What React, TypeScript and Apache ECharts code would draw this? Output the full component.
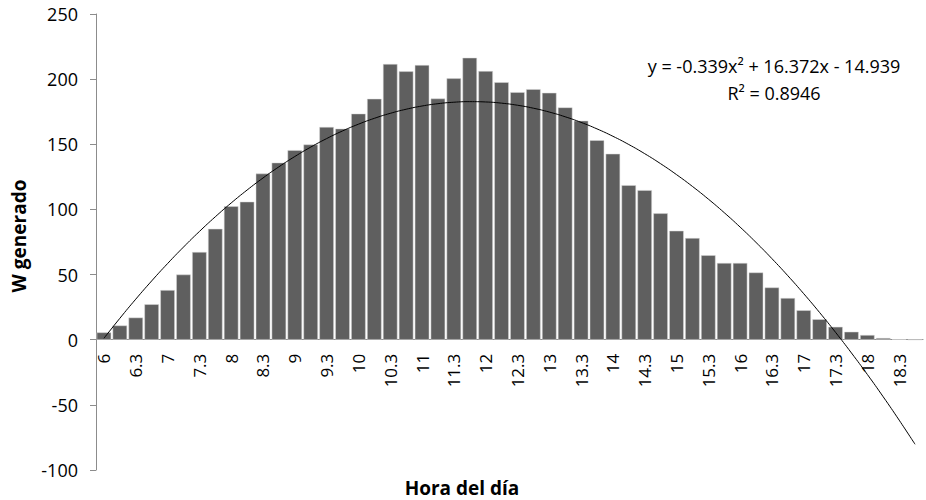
import React, { useEffect, useRef } from "react";
import * as echarts from "echarts";

const categories: string[] = [
  "6", "6.15", "6.3", "6.45", "7", "7.15", "7.3", "7.45", "8", "8.15", "8.3", "8.45",
  "9", "9.15", "9.3", "9.45", "10", "10.15", "10.3", "10.45", "11", "11.15", "11.3", "11.45",
  "12", "12.15", "12.3", "12.45", "13", "13.15", "13.3", "13.45", "14", "14.15", "14.3", "14.45",
  "15", "15.15", "15.3", "15.45", "16", "16.15", "16.3", "16.45", "17", "17.15", "17.3", "17.45",
  "18", "18.15", "18.3", "18.45",
];

const wGenerado: number[] = [
  5.6, 10.9, 17.0, 27.2, 38.1, 50.0, 67.3, 85.1, 102.4, 105.9, 127.5, 135.9,
  145.5, 149.8, 163.3, 162.0, 173.5, 184.9, 211.6, 206.0, 210.8, 185.1, 200.6, 216.4,
  206.2, 197.6, 190.0, 192.3, 189.5, 178.3, 168.1, 153.1, 142.7, 118.6, 114.8, 97.0,
  83.6, 78.0, 64.8, 58.9, 58.9, 51.6, 40.1, 32.0, 22.6, 15.7, 9.9, 6.1,
  3.6, 1.3, 0.3, 0,
];

// Polynomial trendline coefficients as printed on the chart: a*x^2 + b*x + c
const trendCoefficients: number[] = [-0.339, 16.372, -14.939];
const equationLines: string[] = ["y = -0.339x² + 16.372x - 14.939", "R² = 0.8946"];

const yTicks = { min: -100, max: 250, interval: 50 };

const FONT = "'Open Sans', Lato, sans-serif";
const W = 926;
const H = 500;
const GRID_TOP = 14;
const GRID_BOTTOM = 30;

export default function App() {
  const ref = useRef<HTMLDivElement>(null);

  useEffect(() => {
    if (!ref.current) return;
    const chart = echarts.init(ref.current, null, { renderer: "svg" });
    const [a, b, c] = trendCoefficients;
    const trend = categories.map((_, i) => {
      const x = i + 1;
      return a * x * x + b * x + c;
    });

    // pixel row of the value 0 inside the main grid (labels sit under the zero line)
    const plotH = H - GRID_TOP - GRID_BOTTOM;
    const zeroY = GRID_TOP + (yTicks.max / (yTicks.max - yTicks.min)) * plotH;

    chart.setOption({
      animation: false,
      backgroundColor: "#ffffff",
      textStyle: { fontFamily: FONT },
      grid: [
        { left: 96, right: 3, top: GRID_TOP, bottom: GRID_BOTTOM, containLabel: false },
        { left: 96, right: 3, top: GRID_TOP, bottom: H - zeroY, containLabel: false },
      ],
      xAxis: [
        {
          type: "category",
          gridIndex: 0,
          data: categories,
          boundaryGap: true,
          axisLine: { show: true, onZero: true, lineStyle: { color: "#8c8c8c", width: 1 } },
          axisTick: { show: false },
          axisLabel: { show: false },
          splitLine: { show: false },
        },
        {
          type: "category",
          gridIndex: 1,
          data: categories,
          boundaryGap: true,
          axisLine: { show: false },
          axisTick: { show: false },
          axisLabel: {
            rotate: 90,
            interval: 1,
            fontSize: 17,
            color: "#000",
            margin: 14,
            fontFamily: FONT,
          },
          splitLine: { show: false },
        },
      ],
      yAxis: [
        {
          type: "value",
          gridIndex: 0,
          min: yTicks.min,
          max: yTicks.max,
          interval: yTicks.interval,
          axisLine: { show: true, lineStyle: { color: "#8c8c8c", width: 1 } },
          axisTick: { show: true, length: 6, lineStyle: { color: "#8c8c8c" } },
          axisLabel: { fontSize: 18, color: "#000", margin: 18, fontFamily: FONT },
          splitLine: { show: false },
        },
        {
          type: "value",
          gridIndex: 1,
          min: 0,
          max: yTicks.max,
          show: false,
          splitLine: { show: false },
        },
      ],
      series: [
        {
          type: "bar",
          xAxisIndex: 0,
          yAxisIndex: 0,
          data: wGenerado,
          barCategoryGap: "9%",
          itemStyle: { color: "#5f5f5f", borderColor: "#d9d9d9", borderWidth: 0.5 },
          z: 2,
        },
        {
          type: "line",
          xAxisIndex: 0,
          yAxisIndex: 0,
          data: trend,
          smooth: true,
          showSymbol: false,
          symbol: "none",
          lineStyle: { color: "#000", width: 1 },
          z: 3,
        },
      ],
      graphic: [
        {
          type: "text",
          x: 774,
          y: 66,
          style: {
            text: equationLines[0],
            fill: "#000",
            font: `18px ${FONT}`,
            align: "center",
            verticalAlign: "middle",
          },
          silent: true,
        },
        {
          type: "text",
          x: 774,
          y: 93,
          style: {
            text: equationLines[1],
            fill: "#000",
            font: `18px ${FONT}`,
            align: "center",
            verticalAlign: "middle",
          },
          silent: true,
        },
        {
          type: "text",
          x: 462,
          y: 488,
          style: {
            text: "Hora del día",
            fill: "#000",
            font: `bold 19px ${FONT}`,
            lineHeight: 20,
            align: "center",
            verticalAlign: "middle",
          },
          silent: true,
        },
        {
          type: "text",
          x: 19,
          y: 236,
          rotation: Math.PI / 2,
          style: {
            text: "W generado",
            fill: "#000",
            font: `bold 19px ${FONT}`,
            align: "center",
            verticalAlign: "middle",
          },
          silent: true,
        },
      ],
    });

    return () => chart.dispose();
  }, []);

  return (
    <div
      ref={ref}
      style={{ position: "absolute", left: 0, top: 0, width: W, height: H }}
    />
  );
}
